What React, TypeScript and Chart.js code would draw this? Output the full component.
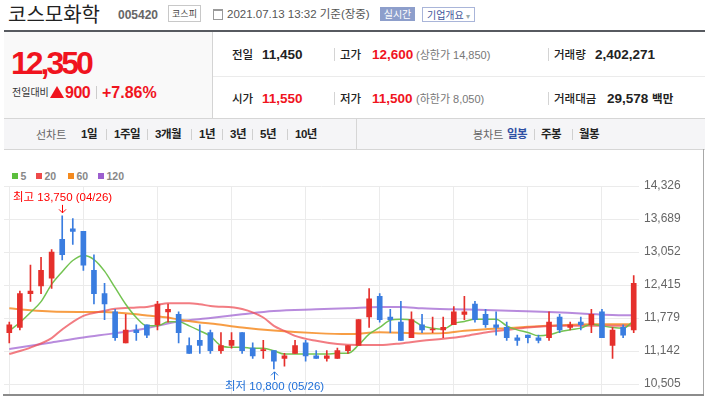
import React, { useEffect, useRef } from 'react';
import { Chart, registerables } from 'chart.js';
Chart.register(...registerables);

const FONT = '"Liberation Sans", "Noto Sans CJK KR", Arial, sans-serif';
const KFONT = '"Noto Sans CJK KR", "Liberation Sans", sans-serif';

const dates = ['04/19','04/20','04/21','04/22','04/23','04/26','04/27','04/28','04/29','04/30','05/03','05/04','05/06','05/07','05/10','05/11','05/12','05/13','05/14','05/17','05/18','05/20','05/21','05/24','05/25','05/26','05/27','05/28','05/31','06/01','06/02','06/03','06/04','06/07','06/08','06/09','06/10','06/11','06/14','06/15','06/16','06/17','06/18','06/21','06/22','06/23','06/24','06/25','06/28','06/29','06/30','07/01','07/02','07/05','07/06','07/07','07/08','07/09','07/12','07/13'];

const opens = [11500,11600,12250,12400,12550,13300,13500,13450,12700,12250,11900,11300,11550,11650,11650,11900,11850,11250,11350,11500,11150,11250,11500,11200,11150,11150,11000,11100,11300,11050,11000,11000,11150,11250,11800,12200,11800,11700,11400,11650,11550,11550,11650,11850,12050,11850,11650,11600,11400,11450,11400,11400,11800,11600,11700,11650,11900,11250,11600,11550];
const highs = [11700,12300,12800,12950,13100,13750,13700,13450,13000,12450,11950,11850,11650,11650,12100,12050,11900,11400,11650,11550,11500,11500,11500,11300,11350,11150,11100,11350,11350,11150,11150,11200,11250,11750,12350,12250,11950,12100,11900,11850,11800,11800,12000,12200,12100,11950,11900,11700,11450,11450,11450,11900,11850,11700,11800,11950,11950,11600,11650,12600];
const lows = [11300,11550,12100,12250,12350,12900,13200,12700,12050,11750,11350,11300,11350,11400,11550,11700,11300,11100,11100,11100,11100,11200,11100,11000,11000,10800,10850,11100,10950,11000,10950,11000,11100,11250,11600,11700,11500,11350,11400,11500,11500,11400,11650,11750,11700,11600,11450,11350,11250,11300,11300,11350,11500,11550,11550,11500,11400,11000,11400,11500];
const closes = [11650,12250,12300,12700,13050,13000,13450,12800,12250,12050,11400,11550,11500,11450,12050,11950,11500,11100,11250,11150,11250,11350,11150,11050,11150,10950,11050,11250,11050,11000,11050,11150,11250,11750,12150,11750,11750,11350,11750,11550,11550,11600,11900,11900,11750,11650,11600,11400,11350,11400,11350,11700,11550,11650,11650,11850,11400,11550,11450,12450];

const ma5 = [11533,11694,11886,12097,12429,12672,12889,12985,12908,12684,12365,12045,11790,11629,11629,11706,11706,11629,11533,11431,11245,11215,11215,11195,11195,11149,11086,11086,11086,11086,11086,11100,11100,11259,11470,11598,11738,11757,11744,11629,11585,11566,11675,11713,11757,11757,11757,11629,11552,11502,11437,11456,11514,11552,11585,11662,11629,11598,11585,11725];

const ma20Idx = [0,2,4,5,7,9,10,12,13,14,15,17,18,19,22,24,25,26,27,29,31,33,35,37,39,41,43,45,47,49,52,55,57,59];
const ma20Val = [11086,11210,11393,11560,11821,11920,11960,11985,11995,12032,12064,12064,12045,12013,11955,11790,11629,11533,11437,11341,11278,11259,11259,11291,11341,11380,11430,11502,11552,11598,11629,11629,11629,11629];

const ma60Idx = [0,2,4,7,9,10,12,13,15,16,18,19,22,25,29,32,35,38,39,41,43,45,47,49,52,55,57,59];
const ma60Val = [11968,11930,11905,11897,11895,11886,11853,11830,11790,11750,11694,11675,11598,11540,11489,11470,11505,11489,11483,11489,11533,11566,11585,11610,11642,11662,11662,11662];

const ma120Idx = [0,4,7,10,13,16,19,22,25,29,32,35,37,39,42,45,48,51,54,57,59];
const ma120Val = [11182,11310,11406,11489,11585,11713,11780,11853,11917,11949,11968,11993,11993,11968,11949,11936,11917,11897,11867,11840,11834];

const yTicks = [10505, 11142, 11779, 12415, 13052, 13689, 14326];
const yMin = 10319;
const yMax = 14326;

const maNames = ['5', '20', '60', '120'];
const maLegendColors = ['#5cbf3d', '#ee4a4a', '#f48a1e', '#9c5fcf'];
const maLineColors = ['rgba(108,192,72,0.95)', 'rgba(238,80,88,0.75)', 'rgba(246,140,35,0.85)', 'rgba(160,100,210,0.75)'];

const RED = '#e5302c';
const BLUE = '#3a7de0';

const fmt = (n: number) => Math.round(n).toLocaleString('en-US');

const period1 = ['1일', '1주일', '3개월', '1년', '3년', '5년', '10년'];
const period1X = [81, 114, 155, 199, 230, 260, 295];
const candleTypes = ['일봉', '주봉', '월봉'];
const candleTypesX = [507, 541, 579];

function T(props: { x: number; cy: number; size: number; color?: string; bold?: boolean; family?: string; children: any; ls?: number; weight?: number }) {
  const lh = Math.ceil(props.size * 1.4);
  return (
    <div
      style={{
        position: 'absolute',
        left: props.x,
        top: props.cy - lh / 2,
        height: lh,
        lineHeight: lh + 'px',
        fontSize: props.size,
        color: props.color || '#222',
        fontWeight: props.weight ?? (props.bold ? 700 : 400),
        fontFamily: props.family || FONT,
        whiteSpace: 'nowrap',
        letterSpacing: props.ls ? props.ls + 'px' : undefined,
      }}
    >
      {props.children}
    </div>
  );
}

export default function App() {
  const ref = useRef<HTMLCanvasElement>(null);

  useEffect(() => {
    const n = dates.length;
    const sparse = (idx: number[], val: number[]) => {
      const a: (number | null)[] = new Array(n).fill(null);
      idx.forEach((k, i) => { a[k] = val[i]; });
      return a;
    };
    const colors = closes.map((c, i) => (c >= opens[i] ? RED : BLUE));
    const maData = [ma5, sparse(ma20Idx, ma20Val), sparse(ma60Idx, ma60Val), sparse(ma120Idx, ma120Val)];

    const hiLo = {
      id: 'hiLo',
      afterDatasetsDraw(chart: any) {
        const { ctx, scales } = chart;
        const xs = scales.x;
        const ys = scales.y;
        let hi = 0;
        let lo = 0;
        highs.forEach((h, i) => { if (h > highs[hi]) hi = i; });
        lows.forEach((l, i) => { if (l < lows[lo]) lo = i; });
        ctx.save();
        ctx.lineWidth = 1;
        ctx.font = '11.5px ' + FONT;
        ctx.textBaseline = 'middle';
        const hx = Math.round(xs.getPixelForValue(hi)) + 0.5;
        const hy = ys.getPixelForValue(highs[hi]);
        ctx.strokeStyle = '#ff0000';
        ctx.fillStyle = '#ff0000';
        ctx.beginPath();
        ctx.moveTo(hx, hy - 11);
        ctx.lineTo(hx, hy - 3);
        ctx.moveTo(hx - 3.5, hy - 6.5);
        ctx.lineTo(hx, hy - 3);
        ctx.lineTo(hx + 3.5, hy - 6.5);
        ctx.stroke();
        ctx.fillText('최고 ' + fmt(highs[hi]) + ' (' + dates[hi] + ')', hx - 49.5, hy - 18);
        const lx = Math.round(xs.getPixelForValue(lo)) + 0.5;
        const ly = ys.getPixelForValue(lows[lo]);
        ctx.strokeStyle = '#1f6fd8';
        ctx.fillStyle = '#1f6fd8';
        ctx.beginPath();
        ctx.moveTo(lx, ly + 11);
        ctx.lineTo(lx, ly + 3);
        ctx.moveTo(lx - 3.5, ly + 6.5);
        ctx.lineTo(lx, ly + 3);
        ctx.lineTo(lx + 3.5, ly + 6.5);
        ctx.stroke();
        ctx.fillText('최저 ' + fmt(lows[lo]) + ' (' + dates[lo] + ')', lx - 49.5, ly + 18);
        ctx.restore();
      },
    };

    const chart = new Chart(ref.current as HTMLCanvasElement, {
      type: 'bar',
      data: {
        labels: dates,
        datasets: [
          {
            type: 'bar',
            label: 'body',
            data: opens.map((o, i) => [o, closes[i]]) as any,
            backgroundColor: colors,
            barThickness: 5,
            minBarLength: 1,
            grouped: false,
            order: 1,
          } as any,
          {
            type: 'bar',
            label: 'wick',
            data: lows.map((l, i) => [l, highs[i]]) as any,
            backgroundColor: colors,
            barThickness: 1,
            grouped: false,
            order: 2,
          } as any,
          ...maData.map((d, k) => ({
            type: 'line',
            label: 'MA' + maNames[k],
            data: d,
            borderColor: maLineColors[k],
            borderWidth: k === 0 ? 1.5 : 2,
            pointRadius: 0,
            spanGaps: true,
            tension: 0.4,
            cubicInterpolationMode: 'monotone',
            order: 3 + k,
          } as any)),
        ],
      },
      options: {
        responsive: false,
        animation: false,
        events: [],
        layout: { padding: { top: 20, bottom: 11, left: 4, right: 0 } },
        plugins: { legend: { display: false }, tooltip: { enabled: false } },
        scales: {
          x: {
            offset: true,
            ticks: { display: false, autoSkip: false },
            grid: {
              offset: false,
              drawTicks: false,
              color: (c: any) => (c.index % 7 === 0 ? '#ebebeb' : 'rgba(0,0,0,0)'),
            },
            border: { display: false },
            afterFit: (s: any) => { s.height = 0; },
          },
          y: {
            position: 'right',
            min: yMin,
            max: yMax,
            afterBuildTicks: (s: any) => { s.ticks = yTicks.map((v) => ({ value: v })); },
            ticks: {
              callback: (v: any) => fmt(Number(v)),
              color: '#666',
              font: { size: 12, family: FONT },
              padding: 5,
            },
            grid: { color: '#ebebeb', drawTicks: false },
            border: { display: false },
            afterFit: (s: any) => { s.width = 66; },
          },
        },
      } as any,
      plugins: [hiLo],
    });
    return () => chart.destroy();
  }, []);

  return (
    <div style={{ position: 'absolute', left: 0, top: 0, width: 705, height: 398, overflow: 'hidden', background: '#fff', fontFamily: FONT }}>
      {/* title row */}
      <T x={8} cy={13.5} size={20} color="#222" family={KFONT}>코스모화학</T>
      <T x={118} cy={15} size={12} bold color="#666">005420</T>
      <div style={{ position: 'absolute', left: 168, top: 5, width: 31, height: 15, border: '1px solid #c8c8c8', fontSize: 9, lineHeight: '15px', textAlign: 'center', color: '#444', fontFamily: KFONT }}>코스피</div>
      <div style={{ position: 'absolute', left: 213, top: 9, width: 8, height: 8, border: '1px solid #9a9a9a', borderTop: '2px solid #9a9a9a' }} />
      <T x={227} cy={14} size={11.5} color="#555">2021.07.13 13:32 기준(장중)</T>
      <div style={{ position: 'absolute', left: 380, top: 7, width: 35, height: 14, background: '#8d9ecb', color: '#fff', fontSize: 10, lineHeight: '14px', textAlign: 'center', fontFamily: KFONT }}>실시간</div>
      <div style={{ position: 'absolute', left: 422, top: 7, width: 51, height: 13, border: '1px solid #a9b5d9', color: '#40539a', fontSize: 10, lineHeight: '13px', textAlign: 'center', fontFamily: KFONT }}>기업개요 <span style={{ color: '#9aa', fontSize: 8 }}>▾</span></div>

      <div style={{ position: 'absolute', left: 4, top: 30, width: 701, height: 2, background: '#575a60' }} />

      {/* left price panel */}
      <div style={{ position: 'absolute', left: 4, top: 32, width: 208, height: 86, background: '#f9f9f9' }} />
      <div style={{ position: 'absolute', left: 212, top: 32, width: 1, height: 86, background: '#d4d4d4' }} />
      <T x={11} cy={63.5} size={32} bold color="#f0141e" ls={-3}>12,350</T>
      <T x={12} cy={92} size={10} color="#333" family={KFONT}>전일대비</T>
      <div style={{ position: 'absolute', left: 50, top: 86, width: 0, height: 0, borderLeft: '7px solid transparent', borderRight: '7px solid transparent', borderBottom: '12px solid #f0141e' }} />
      <T x={65} cy={92} size={16} bold color="#f0141e" ls={-0.5}>900</T>
      <div style={{ position: 'absolute', left: 96, top: 86, width: 1, height: 13, background: '#cccccc' }} />
      <T x={102} cy={92} size={16} bold color="#f0141e">+7.86%</T>

      {/* right info table */}
      <div style={{ position: 'absolute', left: 213, top: 76, width: 492, height: 1, background: '#ebebeb' }} />
      <T x={232} cy={54.5} size={11.5} color="#222" weight={500} family={KFONT}>전일</T>
      <T x={262} cy={54.5} size={13.5} bold color="#222">11,450</T>
      <div style={{ position: 'absolute', left: 334, top: 48, width: 1, height: 13, background: '#d4d4d4' }} />
      <T x={340} cy={54.5} size={11.5} color="#222" weight={500} family={KFONT}>고가</T>
      <T x={372} cy={54.5} size={13.5} bold color="#f0141e">12,600</T>
      <T x={416} cy={54.5} size={11} color="#777">(상한가 14,850)</T>
      <div style={{ position: 'absolute', left: 548, top: 48, width: 1, height: 13, background: '#d4d4d4' }} />
      <T x={554} cy={54.5} size={11.5} color="#222" weight={500} family={KFONT}>거래량</T>
      <T x={595} cy={54.5} size={13.5} bold color="#222">2,402,271</T>

      <T x={232} cy={98.5} size={11.5} color="#222" weight={500} family={KFONT}>시가</T>
      <T x={262} cy={98.5} size={13.5} bold color="#f0141e">11,550</T>
      <div style={{ position: 'absolute', left: 334, top: 92, width: 1, height: 13, background: '#d4d4d4' }} />
      <T x={340} cy={98.5} size={11.5} color="#222" weight={500} family={KFONT}>저가</T>
      <T x={372} cy={98.5} size={13.5} bold color="#f0141e">11,500</T>
      <T x={416} cy={98.5} size={11} color="#777">(하한가 8,050)</T>
      <div style={{ position: 'absolute', left: 548, top: 92, width: 1, height: 13, background: '#d4d4d4' }} />
      <T x={554} cy={98.5} size={11.5} color="#222" weight={500} family={KFONT}>거래대금</T>
      <T x={607} cy={98.5} size={13.5} bold color="#222">29,578 <span style={{ fontSize: 11.5 }}>백만</span></T>

      {/* toolbar */}
      <div style={{ position: 'absolute', left: 4, top: 118, width: 701, height: 30, background: '#f5f5f7', borderTop: '1px solid #d6d6d6', borderBottom: '1px solid #d6d6d6' }} />
      <div style={{ position: 'absolute', left: 356, top: 119, width: 1, height: 30, background: '#d6d6d6' }} />
      <T x={36} cy={134} size={11} color="#666" family={KFONT}>선차트</T>
      {period1.map((p, i) => (
        <React.Fragment key={p}>
          <T x={period1X[i]} cy={134} size={11.5} bold color="#222" ls={-0.5}>{p}</T>
          {i < period1.length - 1 && <div style={{ position: 'absolute', left: period1X[i + 1] - 8, top: 129, width: 1, height: 11, background: '#d0d0d0' }} />}
        </React.Fragment>
      ))}
      <T x={473} cy={134} size={11} color="#666" family={KFONT}>봉차트</T>
      {candleTypes.map((p, i) => (
        <React.Fragment key={p}>
          <T x={candleTypesX[i]} cy={134} size={11.5} bold color={i === 0 ? '#2e4fa3' : '#222'} ls={-0.5}>{p}</T>
          {i < candleTypes.length - 1 && <div style={{ position: 'absolute', left: candleTypesX[i + 1] - 7, top: 129, width: 1, height: 11, background: '#d0d0d0' }} />}
        </React.Fragment>
      ))}

      {/* legend */}
      {maNames.map((nm, i) => {
        const lx = [12, 36, 68, 98][i];
        return (
          <React.Fragment key={nm}>
            <div style={{ position: 'absolute', left: lx, top: 173, width: 6, height: 6, background: maLegendColors[i] }} />
            <T x={lx + 8.5} cy={176.5} size={10.5} bold color="#888">{nm}</T>
          </React.Fragment>
        );
      })}

      <canvas ref={ref} width={705} height={240} style={{ position: 'absolute', left: 0, top: 166, display: 'block' }} />
      <div style={{ position: 'absolute', left: 703, top: 149, width: 1, height: 247, background: '#a8a8a8' }} />
      <div style={{ position: 'absolute', left: 3, top: 394, width: 701, height: 2, background: '#8c8c8c' }} />
    </div>
  );
}
